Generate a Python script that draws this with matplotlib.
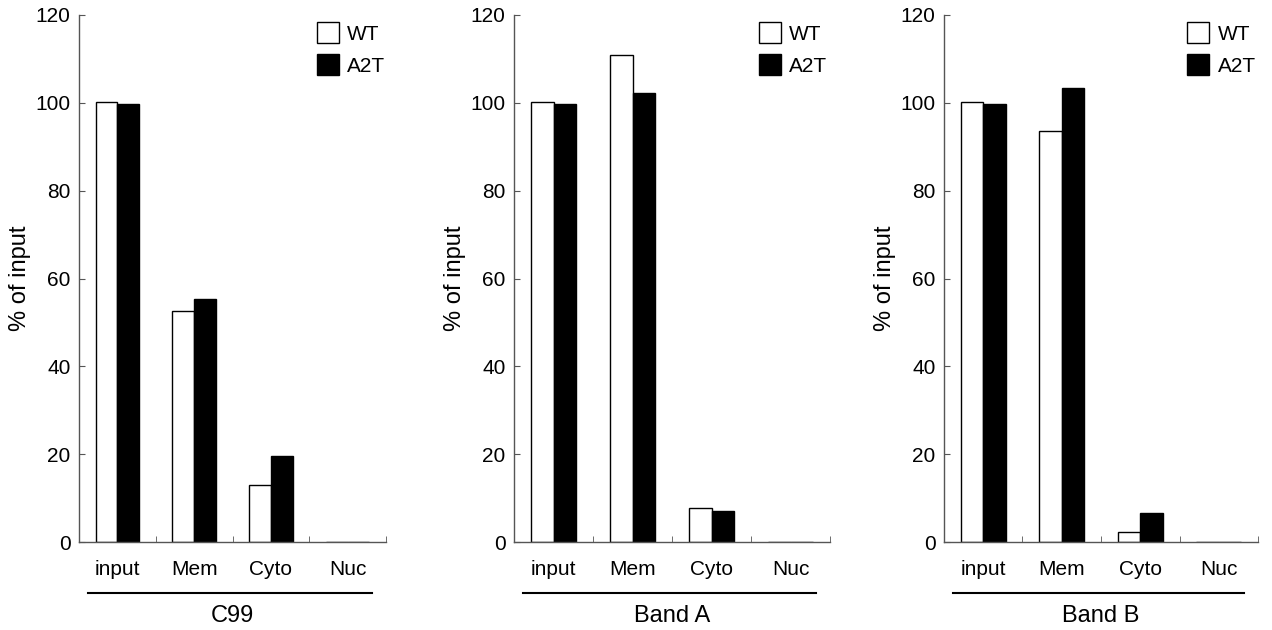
import numpy as np
import matplotlib
matplotlib.use("Agg")
import matplotlib.pyplot as plt
from matplotlib.patches import Patch

plt.rcParams['font.family'] = ['Liberation Sans', 'DejaVu Sans']

# --- data ---
categories = ["input", "Mem", "Cyto", "Nuc"]
panel_titles = ["C99", "Band A", "Band B"]

c99_wt = [100.2, 52.7, 12.9, 0]
c99_a2t = [99.8, 55.4, 19.6, 0]
banda_wt = [100.2, 110.8, 7.8, 0]
banda_a2t = [99.8, 102.3, 7.0, 0]
bandb_wt = [100.2, 93.5, 2.3, 0]
bandb_a2t = [99.8, 103.4, 6.6, 0]

wt_values = [c99_wt, banda_wt, bandb_wt]
a2t_values = [c99_a2t, banda_a2t, bandb_a2t]

# axes boxes in figure pixels (left, right)
W, H = 1272, 630
boxes = [(79, 386), (514, 830), (944, 1258)]
y_bottom, y_top = 542, 15

fig = plt.figure(figsize=(W / 100, H / 100), dpi=100)

x = np.arange(len(categories)) + 0.5
bw = 0.285
axis_col = "#555555"

for i, (l, r) in enumerate(boxes):
    ax = fig.add_axes([l / W, (H - y_bottom) / H, (r - l) / W, (y_bottom - y_top) / H])
    ax.bar(x - bw / 2, wt_values[i], bw, color="white", edgecolor="black", linewidth=1.0)
    ax.bar(x + bw / 2, a2t_values[i], bw, color="black", edgecolor="black", linewidth=1.0)

    ax.set_xlim(0, 4)
    ax.set_ylim(0, 120)
    ax.set_yticks(range(0, 121, 20))
    ax.set_xticks(x)
    ax.set_xticklabels(categories, fontsize=15)
    ax.set_xticks(range(0, 5), minor=True)
    ax.tick_params(axis="x", which="major", length=0, pad=13)
    ax.tick_params(axis="x", which="minor", direction="in", length=4, color=axis_col)
    ax.tick_params(axis="y", direction="in", length=4, color=axis_col, labelsize=15, pad=6)

    for s in ["top", "right"]:
        ax.spines[s].set_visible(False)
    for s in ["left", "bottom"]:
        ax.spines[s].set_color(axis_col)
        ax.spines[s].set_linewidth(1.0)

    ax.set_ylabel("% of input", fontsize=17, labelpad=3)

    # group underline + label
    ax.plot([0.03, 0.955], [-0.097, -0.097], transform=ax.transAxes,
            color="black", linewidth=1.5, clip_on=False)
    ax.text(0.5, -0.12, panel_titles[i], transform=ax.transAxes,
            ha="center", va="top", fontsize=17)

    handles = [Patch(facecolor="white", edgecolor="black", linewidth=1.0, label="WT"),
               Patch(facecolor="black", edgecolor="black", label="A2T")]
    ax.legend(handles=handles, loc="upper left", bbox_to_anchor=(0.775, 0.986),
              frameon=False, fontsize=15, handlelength=1.06, handleheight=1.18,
              handletextpad=0.4, labelspacing=0.5, borderpad=0, borderaxespad=0)

fig.savefig("out.png", dpi=100)
